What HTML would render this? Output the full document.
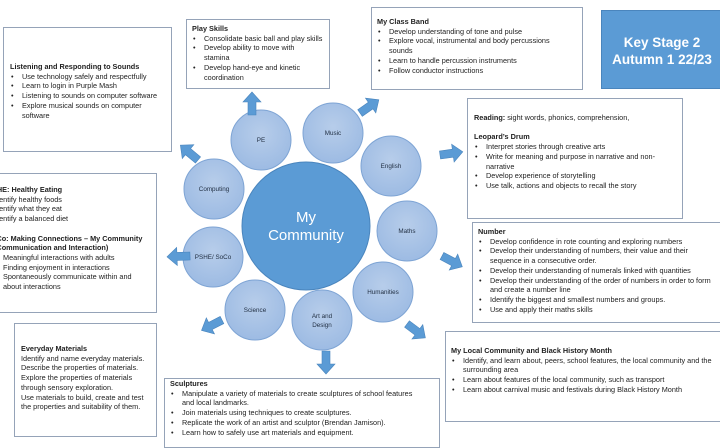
<!DOCTYPE html>
<html><head><meta charset="utf-8"><style>
body{margin:0;width:720px;height:440px;overflow:hidden;background:#fff;position:relative;font-family:"Liberation Sans",sans-serif;color:#222}
.b{position:absolute;border:1px solid #95a3b8;background:#fff;box-sizing:border-box;font-size:7.3px;line-height:9.7px;overflow:hidden}
.b p{margin:0;white-space:nowrap}
.h{font-weight:bold}
.li{position:relative;padding-left:12px}
.li:before{content:"•";position:absolute;left:1px}
svg{position:absolute;left:0;top:0}
.c{font-family:"Liberation Sans",sans-serif;font-size:6.3px;fill:#1f2d40;text-anchor:middle}
</style></head><body>
<svg width="720" height="440">
<defs><radialGradient id="g" cx="50%" cy="40%" r="60%"><stop offset="0" stop-color="#b7cdea"/><stop offset="1" stop-color="#9dbbe3"/></radialGradient></defs>
<g stroke="#7ea4d4" stroke-width="1" fill="url(#g)">
<circle cx="261" cy="140" r="30"/><circle cx="333" cy="133" r="30"/><circle cx="391" cy="166" r="30"/>
<circle cx="407" cy="231" r="30"/><circle cx="383" cy="292" r="30"/><circle cx="322" cy="320" r="30"/>
<circle cx="255" cy="310" r="30"/><circle cx="213" cy="257" r="30"/><circle cx="214" cy="189" r="30"/>
</g>
<circle cx="306" cy="226" r="64" fill="#5b9bd5" stroke="#4a85bd"/>
<text x="306" y="222" font-size="15" fill="#fff" text-anchor="middle" font-family="Liberation Sans">My</text>
<text x="306" y="240" font-size="15" fill="#fff" text-anchor="middle" font-family="Liberation Sans">Community</text>
<text class="c" x="261" y="142">PE</text><text class="c" x="333" y="135">Music</text><text class="c" x="391" y="168">English</text>
<text class="c" x="407" y="233">Maths</text><text class="c" x="383" y="294">Humanities</text>
<text class="c" x="322" y="318">Art and</text><text class="c" x="322" y="327">Design</text>
<text class="c" x="255" y="312">Science</text><text class="c" x="213" y="259">PSHE/ SoCo</text><text class="c" x="214" y="191">Computing</text>
<g fill="#5b9bd5" stroke="#4a85bd" stroke-width="0.6">
<polygon points="0,-4 13,-4 13,-9 23,0 13,9 13,4 0,4" transform="translate(252,115) rotate(-90)"/>
<polygon points="0,-4 13,-4 13,-9 23,0 13,9 13,4 0,4" transform="translate(360,113) rotate(-35)"/>
<polygon points="0,-4 13,-4 13,-9 23,0 13,9 13,4 0,4" transform="translate(198,160) rotate(-140)"/>
<polygon points="0,-4 13,-4 13,-9 23,0 13,9 13,4 0,4" transform="translate(440,155) rotate(-8)"/>
<polygon points="0,-4 13,-4 13,-9 23,0 13,9 13,4 0,4" transform="translate(442,256) rotate(28)"/>
<polygon points="0,-4 13,-4 13,-9 23,0 13,9 13,4 0,4" transform="translate(407,324) rotate(37)"/>
<polygon points="0,-4 13,-4 13,-9 23,0 13,9 13,4 0,4" transform="translate(326,351) rotate(90)"/>
<polygon points="0,-4 13,-4 13,-9 23,0 13,9 13,4 0,4" transform="translate(222,320) rotate(153)"/>
<polygon points="0,-4 13,-4 13,-9 23,0 13,9 13,4 0,4" transform="translate(190,256) rotate(178)"/>
</g>
</svg>

<div class="b" style="left:3px;top:27px;width:169px;height:125px;padding:34px 6px 0 6px">
<p class="h">Listening and Responding to Sounds</p>
<p class="li">Use technology safely and respectfully</p>
<p class="li">Learn to login in Purple Mash</p>
<p class="li">Listening to sounds on computer software</p>
<p class="li">Explore musical sounds on computer<br>software</p>
</div>

<div class="b" style="left:186px;top:19px;width:144px;height:70px;padding:4px 6px 0 5px">
<p class="h">Play Skills</p>
<p class="li">Consolidate basic ball and play skills</p>
<p class="li">Develop ability to move with<br>stamina</p>
<p class="li">Develop hand-eye and kinetic<br>coordination</p>
</div>

<div class="b" style="left:371px;top:7px;width:212px;height:83px;padding:9px 6px 0 5px">
<p class="h">My Class Band</p>
<p class="li">Develop understanding of tone and pulse</p>
<p class="li">Explore vocal, instrumental and body percussions<br>sounds</p>
<p class="li">Learn to handle percussion instruments</p>
<p class="li">Follow conductor instructions</p>
</div>

<div style="position:absolute;left:601px;top:10px;width:125px;height:79px;background:#5b9bd5;border:1px solid #4a85bd;box-sizing:border-box;color:#fff;font-weight:bold;font-size:13.5px;line-height:17px;padding-top:23px;white-space:nowrap"><div style="width:120px;text-align:center">Key Stage 2<br>Autumn 1 22/23</div></div>

<div class="b" style="left:467px;top:98px;width:216px;height:121px;padding:14px 6px 0 6px">
<p><b>Reading:</b> sight words, phonics, comprehension,</p>
<p>&nbsp;</p>
<p class="h">Leopard’s Drum</p>
<p class="li">Interpret stories through creative arts</p>
<p class="li">Write for meaning and purpose in narrative and non-<br>narrative</p>
<p class="li">Develop experience of storytelling</p>
<p class="li">Use talk, actions and objects to recall the story</p>
</div>

<div class="b" style="left:-5px;top:173px;width:162px;height:140px;padding:11px 4px 0 0">
<p class="h" style="margin-left:-4px">SHE: Healthy Eating</p>
<p style="margin-left:-3px">Identify healthy foods</p>
<p style="margin-left:-3px">Identify what they eat</p>
<p style="margin-left:-3px">Identify a balanced diet</p>
<p>&nbsp;</p>
<p class="h" style="margin-left:-4px">oCo: Making Connections – My Community</p>
<p class="h" style="margin-left:-2px">(Communication and Interaction)</p>
<p style="padding-left:7px">Meaningful interactions with adults</p>
<p style="padding-left:7px">Finding enjoyment in interactions</p>
<p style="padding-left:7px">Spontaneously communicate within and</p>
<p style="padding-left:7px">about interactions</p>
</div>

<div class="b" style="left:472px;top:222px;width:260px;height:101px;padding:4px 6px 0 5px">
<p class="h">Number</p>
<p class="li">Develop confidence in rote counting and exploring numbers</p>
<p class="li">Develop their understanding of numbers, their value and their<br>sequence in a consecutive order.</p>
<p class="li">Develop their understanding of numerals linked with quantities</p>
<p class="li">Develop their understanding of the order of numbers in order to form<br>and create a number line</p>
<p class="li">Identify the biggest and smallest numbers and groups.</p>
<p class="li">Use and apply their maths skills</p>
</div>

<div class="b" style="left:14px;top:323px;width:143px;height:114px;padding:20px 4px 0 6px">
<p class="h">Everyday Materials</p>
<p>Identify and name everyday materials.</p>
<p>Describe the properties of materials.</p>
<p>Explore the properties of materials</p>
<p>through sensory exploration.</p>
<p>Use materials to build, create and test</p>
<p>the properties and suitability of them.</p>
</div>

<div class="b" style="left:445px;top:331px;width:285px;height:91px;padding:14px 6px 0 5px">
<p class="h">My Local Community and Black History Month</p>
<p class="li">Identify, and learn about, peers, school features, the local community and the<br>surrounding area</p>
<p class="li">Learn about features of the local community, such as transport</p>
<p class="li">Learn about carnival music and festivals during Black History Month</p>
</div>

<div class="b" style="left:164px;top:378px;width:276px;height:70px;padding:0 6px 0 5px">
<p class="h">Sculptures</p>
<p class="li">Manipulate a variety of materials to create sculptures of school features<br>and local landmarks.</p>
<p class="li">Join materials using techniques to create sculptures.</p>
<p class="li">Replicate the work of an artist and sculptor (Brendan Jamison).</p>
<p class="li">Learn how to safely use art materials and equipment.</p>
</div>
</body></html>
